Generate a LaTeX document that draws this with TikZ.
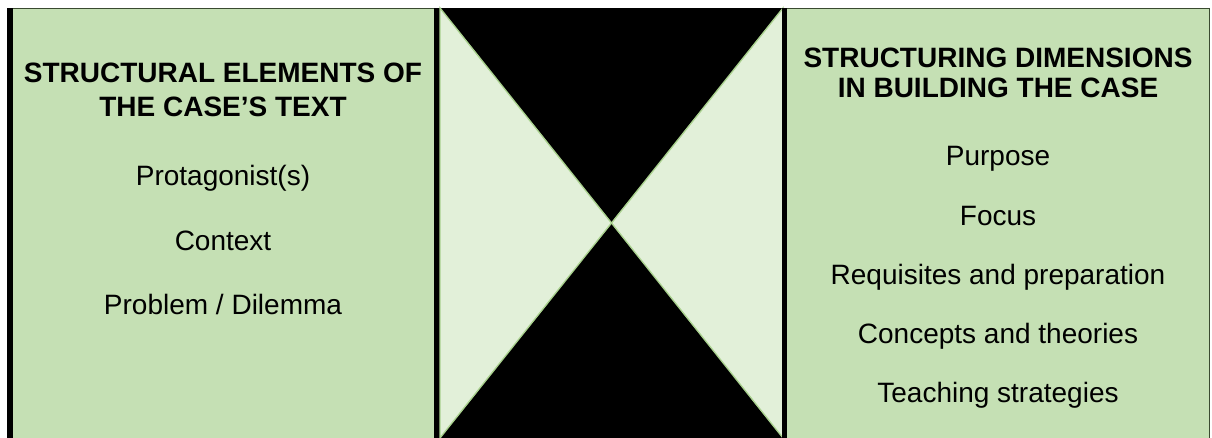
\documentclass[tikz,border=0pt]{standalone}
\usepackage{fontspec}
\setmainfont{Liberation Sans}
\definecolor{panelgreen}{HTML}{C5E0B4}
\definecolor{lightgreen}{HTML}{E2F0D9}
\definecolor{edgegreen}{HTML}{A9D18E}
\definecolor{rimdark}{HTML}{3A4A30}
\begin{document}
\begin{tikzpicture}[x=0.75pt,y=-0.75pt,
  titletext/.style={font=\fontsize{21}{25}\selectfont\bfseries, anchor=base, inner sep=0pt, text=black},
  itemtext/.style={font=\fontsize{21}{25}\selectfont, anchor=base, inner sep=0pt, text=black},
  tri/.style={fill=lightgreen, draw=edgegreen, line width=1pt, line join=miter},
  thinrim/.style={draw=rimdark, line width=0.9pt}]
\useasboundingbox (0,0) rectangle (1212,438);
\clip (0,0) rectangle (1212,438);
% middle band
\fill[black] (436,8) rectangle (786,442);
\coordinate (apex) at (611.5,223);
\filldraw[tri] (440,8) -- (apex) -- (440,438) -- cycle;
\filldraw[tri] (783,8) -- (apex) -- (783,438) -- cycle;
% left panel
\fill[panelgreen] (10,8) rectangle (436,442);
\draw[thinrim] (7,8.5) -- (436,8.5);
\fill[black] (7,8) rectangle (13,442);
\fill[black] (433.5,8) rectangle (438.5,442);
% right panel
\fill[panelgreen] (785,8) rectangle (1210,442);
\draw[thinrim] (783,8.5) -- (1210,8.5);
\draw[thinrim] (1209.5,8) -- (1209.5,442);
\fill[black] (782,8) rectangle (787,442);
% left texts
\node[titletext] (lt1) at (223,83) {STRUCTURAL ELEMENTS OF};
\node[titletext] (lt2) at (223,117) {THE CASE’S TEXT};
\node[itemtext] (l1) at (223,186) {Protagonist(s)};
\node[itemtext] (l2) at (223,250) {Context};
\node[itemtext] (l3) at (223,314) {Problem / Dilemma};
% right texts
\node[titletext] (rt1) at (998,68) {STRUCTURING DIMENSIONS};
\node[titletext] (rt2) at (998,98) {IN BUILDING THE CASE};
\node[itemtext] (r1) at (998,166) {Purpose};
\node[itemtext] (r2) at (998,225) {Focus};
\node[itemtext] (r3) at (998,284) {Requisites and preparation};
\node[itemtext] (r4) at (998,343) {Concepts and theories};
\node[itemtext] (r5) at (998,402) {Teaching strategies};
\end{tikzpicture}
\end{document}
